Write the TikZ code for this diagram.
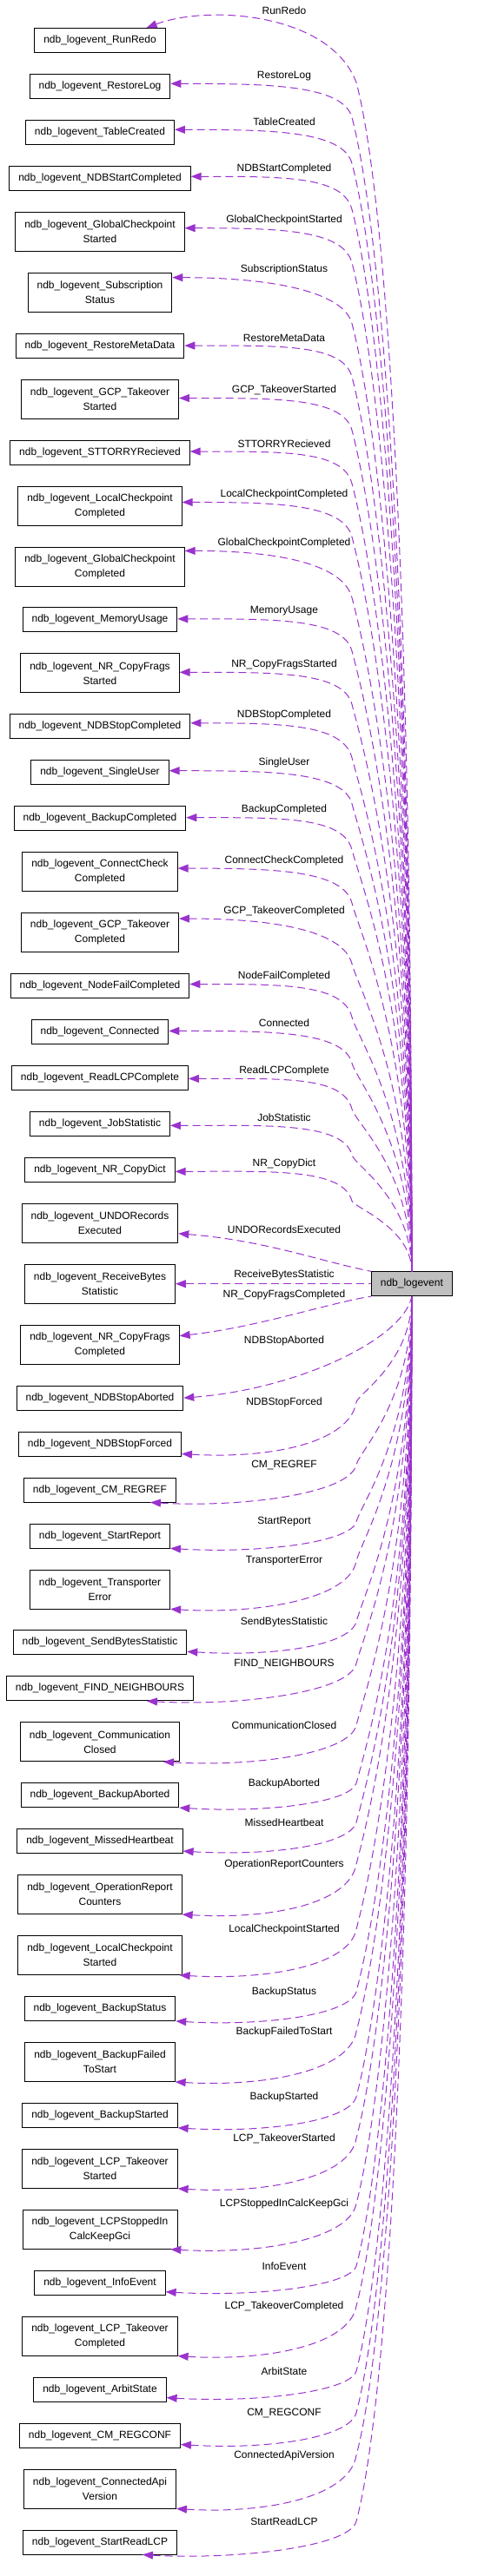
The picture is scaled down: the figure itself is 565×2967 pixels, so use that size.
\documentclass[tikz,border=0pt]{standalone}
\usepackage{fontspec}
\setmainfont{Liberation Sans}
\usetikzlibrary{positioning, arrows.meta, calc}
\definecolor{edgecol}{RGB}{154,50,205}
\definecolor{mainfill}{RGB}{191,191,191}

\begin{document}
\begin{tikzpicture}[
    x=1pt, y=1pt,
    cls/.style={draw, line width=0.8pt, minimum height=28pt, inner xsep=10.5pt, font=\fontsize{12}{17}\selectfont, align=center},
    cls2/.style={cls, minimum height=45pt},
    lbl/.style={font=\fontsize{12}{17}\selectfont},
    dep/.style={<-, >={Triangle[length=12pt, width=9pt]}, draw=edgecol, line width=1pt, dash pattern=on 9pt off 5pt},
]
    \useasboundingbox (0,0) rectangle (565,-2967);
    \coordinate (lblx) at (327,0);

    % member classes, top to bottom
    \node[cls] (rrun) at (115,-46.4) {ndb\_logevent\_RunRedo};
    \node[cls, below=24.15pt of rrun] (rlog) {ndb\_logevent\_RestoreLog};
    \node[cls, below=24.15pt of rlog] (tcre) {ndb\_logevent\_TableCreated};
    \node[cls, below=24.15pt of tcre] (nsc) {ndb\_logevent\_NDBStartCompleted};
    \node[cls2, below=24.15pt of nsc] (gcs) {ndb\_logevent\_GlobalCheckpoint\\Started};
    \node[cls2, below=24.15pt of gcs] (subst) {ndb\_logevent\_Subscription\\Status};
    \node[cls, below=24.15pt of subst] (rmd) {ndb\_logevent\_RestoreMetaData};
    \node[cls2, below=24.15pt of rmd] (gcpts) {ndb\_logevent\_GCP\_Takeover\\Started};
    \node[cls, below=24.15pt of gcpts] (sttorry) {ndb\_logevent\_STTORRYRecieved};
    \node[cls2, below=24.15pt of sttorry] (lcc) {ndb\_logevent\_LocalCheckpoint\\Completed};
    \node[cls2, below=24.15pt of lcc] (gcc) {ndb\_logevent\_GlobalCheckpoint\\Completed};
    \node[cls, below=24.15pt of gcc] (mem) {ndb\_logevent\_MemoryUsage};
    \node[cls2, below=24.15pt of mem] (nrcfs) {ndb\_logevent\_NR\_CopyFrags\\Started};
    \node[cls, below=24.15pt of nrcfs] (nstopc) {ndb\_logevent\_NDBStopCompleted};
    \node[cls, below=24.15pt of nstopc] (suser) {ndb\_logevent\_SingleUser};
    \node[cls, below=24.15pt of suser] (bkc) {ndb\_logevent\_BackupCompleted};
    \node[cls2, below=24.15pt of bkc] (ccc) {ndb\_logevent\_ConnectCheck\\Completed};
    \node[cls2, below=24.15pt of ccc] (gcptc) {ndb\_logevent\_GCP\_Takeover\\Completed};
    \node[cls, below=24.15pt of gcptc] (nfc) {ndb\_logevent\_NodeFailCompleted};
    \node[cls, below=24.15pt of nfc] (conn) {ndb\_logevent\_Connected};
    \node[cls, below=24.15pt of conn] (rlcp) {ndb\_logevent\_ReadLCPComplete};
    \node[cls, below=24.15pt of rlcp] (jstat) {ndb\_logevent\_JobStatistic};
    \node[cls, below=24.15pt of jstat] (nrcd) {ndb\_logevent\_NR\_CopyDict};
    \node[cls2, below=24.15pt of nrcd] (undo) {ndb\_logevent\_UNDORecords\\Executed};
    \node[cls2, below=24.15pt of undo] (rbs) {ndb\_logevent\_ReceiveBytes\\Statistic};
    \node[cls2, below=24.15pt of rbs] (nrcfc) {ndb\_logevent\_NR\_CopyFrags\\Completed};
    \node[cls, below=24.15pt of nrcfc] (nsa) {ndb\_logevent\_NDBStopAborted};
    \node[cls, below=24.15pt of nsa] (nsf) {ndb\_logevent\_NDBStopForced};
    \node[cls, below=24.15pt of nsf] (cmref) {ndb\_logevent\_CM\_REGREF};
    \node[cls, below=24.15pt of cmref] (srep) {ndb\_logevent\_StartReport};
    \node[cls2, below=24.15pt of srep] (terr) {ndb\_logevent\_Transporter\\Error};
    \node[cls, below=24.15pt of terr] (sbs) {ndb\_logevent\_SendBytesStatistic};
    \node[cls, below=24.15pt of sbs] (fneigh) {ndb\_logevent\_FIND\_NEIGHBOURS};
    \node[cls2, below=24.15pt of fneigh] (cclosed) {ndb\_logevent\_Communication\\Closed};
    \node[cls, below=24.15pt of cclosed] (bka) {ndb\_logevent\_BackupAborted};
    \node[cls, below=24.15pt of bka] (mhb) {ndb\_logevent\_MissedHeartbeat};
    \node[cls2, below=24.15pt of mhb] (opc) {ndb\_logevent\_OperationReport\\Counters};
    \node[cls2, below=24.15pt of opc] (lcs) {ndb\_logevent\_LocalCheckpoint\\Started};
    \node[cls, below=24.15pt of lcs] (bks) {ndb\_logevent\_BackupStatus};
    \node[cls2, below=24.15pt of bks] (bkfts) {ndb\_logevent\_BackupFailed\\ToStart};
    \node[cls, below=24.15pt of bkfts] (bkst) {ndb\_logevent\_BackupStarted};
    \node[cls2, below=24.15pt of bkst] (lcpts) {ndb\_logevent\_LCP\_Takeover\\Started};
    \node[cls2, below=24.15pt of lcpts] (lcpsi) {ndb\_logevent\_LCPStoppedIn\\CalcKeepGci};
    \node[cls, below=24.15pt of lcpsi] (info) {ndb\_logevent\_InfoEvent};
    \node[cls2, below=24.15pt of info] (lcptc) {ndb\_logevent\_LCP\_Takeover\\Completed};
    \node[cls, below=24.15pt of lcptc] (arbit) {ndb\_logevent\_ArbitState};
    \node[cls, below=24.15pt of arbit] (cmconf) {ndb\_logevent\_CM\_REGCONF};
    \node[cls2, below=24.15pt of cmconf] (capi) {ndb\_logevent\_ConnectedApi\\Version};
    \node[cls, below=24.15pt of capi] (srlcp) {ndb\_logevent\_StartReadLCP};

    % the struct itself
    \node[cls, fill=mainfill, right=225pt of rbs] (main) {ndb\_logevent};

    % edges leaving the top of the struct
    \draw[dep] ([xshift=-22]rrun.north east) .. controls (240,-5) and (380,-15) .. (410,-95)
        .. controls +(31.5,-119) and +(0,849) .. (main.north);
    \node[lbl] (l-rrun) at (327,-12) {RunRedo};
    \foreach \nm/\dy/\lab in {rlog/3/RestoreLog, tcre/3/TableCreated, nsc/2/NDBStartCompleted,
        gcs/4/GlobalCheckpointStarted, subst/17/SubscriptionStatus, rmd/0/RestoreMetaData,
        gcpts/1/GCP\_TakeoverStarted, sttorry/1/STTORRYRecieved, lcc/4/LocalCheckpointCompleted,
        gcc/18/GlobalCheckpointCompleted, mem/1/MemoryUsage, nrcfs/1/NR\_CopyFragsStarted,
        nstopc/4/NDBStopCompleted, suser/2/SingleUser, bkc/1/BackupCompleted,
        ccc/4/ConnectCheckCompleted, gcptc/16/GCP\_TakeoverCompleted, nfc/2/NodeFailCompleted,
        conn/1/Connected, rlcp/-1/ReadLCPComplete, jstat/-2/JobStatistic, nrcd/-2/NR\_CopyDict}{
      \draw[dep] let \p1 = ([yshift=\dy]\nm.east), \p2 = (\nm.center), \p3 = (main.north),
          \n1 = {\y2 - 36pt - \y3} in
        (\p1) .. controls +(110,0) and (395pt, \y2 + 2pt) .. (405pt, \y2 - 36pt)
        .. controls +({0.023*\n1}, {-0.087*\n1}) and +(0, {0.62*\n1}) .. (\p3);
      \node[lbl, yshift={\dy+9}] (l-\nm) at (lblx |- \nm.east) {\lab};
    }

    % edges next to the struct
    \draw[dep] ([yshift=-12]undo.east) .. controls +(100,-8) and +(-60,12) .. (main.north west);
    \node[lbl] (l-undo) at (327,-1416) {UNDORecordsExecuted};
    \draw[dep] (rbs.east) -- (main.west);
    \node[lbl] (l-rbs) at (327,-1468) {ReceiveBytesStatistic};
    \draw[dep] ([yshift=10]nrcfc.east) .. controls +(90,10) and +(-50,-8) .. (main.south west);
    \node[lbl] (l-nrcfc) at (327,-1491) {NR\_CopyFragsCompleted};
    \draw[dep] (nsa.east) .. controls +(130,10) and +(-10,-50) .. (main.south);
    \node[lbl] (l-nsa) at (327,-1544) {NDBStopAborted};

    % edges leaving the bottom of the struct
    \foreach \nm/\dx/\dy/\lab/\ly in {nsf/0/3/NDBStopForced/1615, cmref/-30/0/CM\_REGREF/1687,
        srep/0/0/StartReport/1753, terr/0/0/TransporterError/1798, sbs/0/4/SendBytesStatistic/1868,
        fneigh/-54/0/FIND\_NEIGHBOURS/1916, cclosed/-19/0/CommunicationClosed/1987,
        bka/0/0/BackupAborted/2054, mhb/0/3/MissedHeartbeat/2099, opc/0/0/OperationReportCounters/2147,
        lcs/-3/0/LocalCheckpointStarted/2222, bks/0/0/BackupStatus/2294, bkfts/0/0/BackupFailedToStart/2340,
        bkst/0/0/BackupStarted/2415, lcpts/0/0/LCP\_TakeoverStarted/2463,
        lcpsi/-8/0/LCPStoppedInCalcKeepGci/2538, info/0/4/InfoEvent/2610,
        lcptc/0/0/LCP\_TakeoverCompleted/2656, arbit/0/5/ArbitState/2731, cmconf/0/4/CM\_REGCONF/2779,
        capi/0/0/ConnectedApiVersion/2828, srlcp/-40/0/StartReadLCP/2904}{
      \draw[dep] let \p1 = ([shift={(\dx,\dy)}]\nm.south east), \p3 = (main.south),
          \n1 = {\y3 + \ly}, \n2 = {0.8*(\y1 + \ly)} in
        (\p1) .. controls +(100,-6) and (402, {\n2 - \ly}) .. (410, -\ly)
        .. controls +({0.023*\n1}, {0.087*\n1}) and +(0, {-0.62*\n1}) .. (\p3);
      \node[lbl] (l-\nm) at (327, -\ly) {\lab};
    }
\end{tikzpicture}
\end{document}
